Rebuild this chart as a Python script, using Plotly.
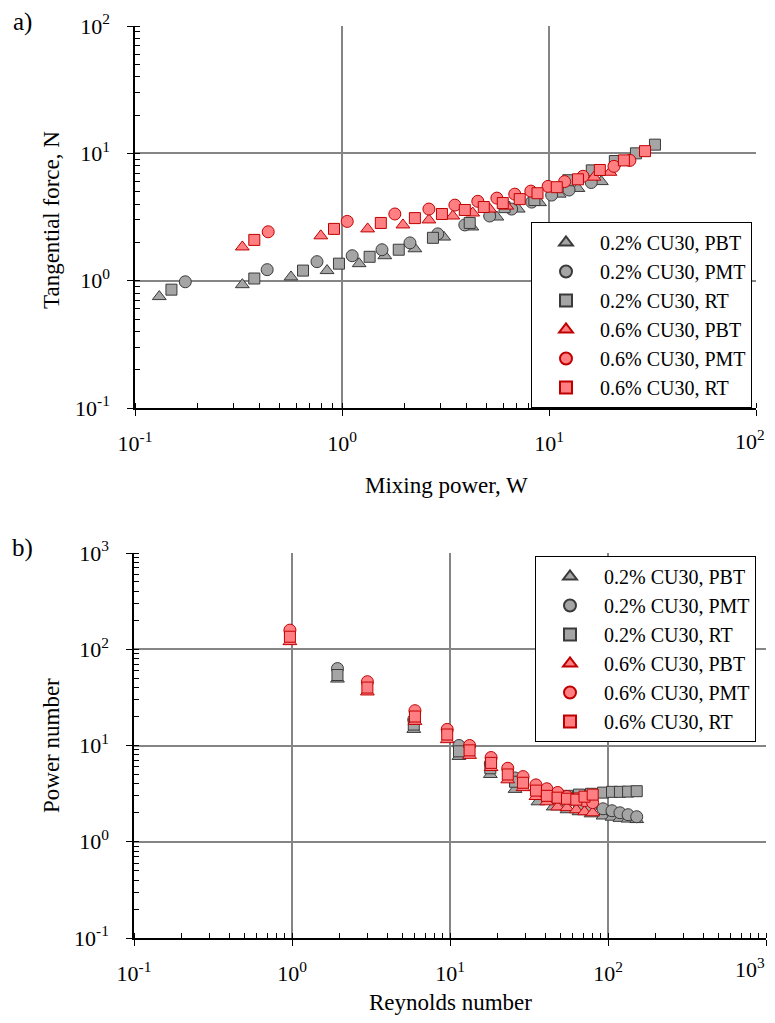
import plotly.graph_objects as go

# ---------------- Data: a) Tangential force vs mixing power ----------------
P_g_pbt = [0.131, 0.33, 0.567, 0.847, 1.21, 1.61, 2.25, 3.1, 4.24, 5.6, 7.1, 9.0, 11.2, 13.8, 17.9]
F_g_pbt = [0.75, 0.93, 1.07, 1.2, 1.36, 1.57, 1.78, 2.2, 2.64, 3.16, 3.65, 4.1, 4.78, 5.3, 6.0]
P_g_pmt = [0.175, 0.435, 0.757, 1.12, 1.56, 2.13, 2.9, 3.92, 5.17, 6.6, 8.25, 10.3, 12.5, 16.0]
F_g_pmt = [0.98, 1.22, 1.41, 1.57, 1.75, 1.98, 2.33, 2.74, 3.22, 3.65, 4.14, 4.7, 5.15, 5.9]
P_g_rt = [0.150, 0.377, 0.648, 0.967, 1.36, 1.88, 2.75, 4.14, 6.1, 8.5, 12.4, 16.1, 20.8, 26.3, 32.5]
F_g_rt = [0.85, 1.04, 1.2, 1.36, 1.54, 1.75, 2.17, 2.84, 3.78, 4.3, 6.15, 7.35, 8.7, 10.0, 11.7]

P_r_pbt = [0.33, 0.79, 1.33, 1.97, 2.63, 3.43, 4.28, 5.17, 6.25, 16.5, 19.7]
F_r_pbt = [1.84, 2.25, 2.55, 2.74, 3.0, 3.22, 3.4, 3.65, 3.85, 6.5, 7.1]
P_r_pmt = [0.44, 1.06, 1.8, 2.63, 3.51, 4.53, 5.6, 6.83, 8.17, 9.9, 11.9, 14.6, 20.6, 24.6]
F_r_pmt = [2.42, 2.92, 3.34, 3.65, 3.92, 4.2, 4.45, 4.78, 5.05, 5.5, 6.0, 6.6, 7.9, 8.8]
P_r_rt = [0.377, 0.915, 1.54, 2.25, 3.04, 3.92, 4.84, 5.98, 7.22, 8.8, 10.9, 13.8, 17.6, 23.0, 29.1]
F_r_rt = [2.09, 2.55, 2.84, 3.1, 3.34, 3.59, 3.79, 4.07, 4.37, 4.86, 5.42, 6.25, 7.4, 8.8, 10.4]

# ---------------- Data: b) Power number vs Reynolds number ----------------
Re_g = [1.94, 5.9, 11.4, 18.0, 25.8, 36, 45, 55, 65.5, 78, 93, 106, 119, 134, 152]
Np_g_pbt = [49, 14.7, 7.7, 5.0, 3.5, 2.6, 2.3, 2.15, 2.05, 1.95, 1.85, 1.8, 1.75, 1.72, 1.7]
Np_g_pmt = [63, 18.6, 10.0, 6.5, 4.6, 3.4, 2.9, 2.6, 2.45, 2.3, 2.2, 2.1, 2.0, 1.91, 1.82]
Np_g_rt = [54, 16.5, 8.7, 5.8, 4.2, 3.3, 3.0, 3.0, 3.09, 3.15, 3.24, 3.3, 3.3, 3.32, 3.35]

Re_r = [0.97, 3.0, 6.0, 9.6, 13.3, 18.2, 23.2, 29, 35, 41, 48, 55, 63, 71, 80]
Np_r_pbt = [120, 36, 17.8, 11.5, 7.9, 5.9, 4.4, 3.65, 2.95, 2.6, 2.3, 2.26, 2.15, 2.05, 2.0]
Np_r_pmt = [158, 46, 23, 14.7, 10.0, 7.5, 5.8, 4.75, 3.9, 3.55, 3.25, 2.95, 2.8, 2.67, 2.55]
Np_r_rt = [135, 40, 20, 13, 8.9, 6.6, 5.0, 4.1, 3.4, 3.0, 2.87, 2.8, 2.74, 2.94, 3.09]

names = ["0.2% CU30, PBT", "0.2% CU30, PMT", "0.2% CU30, RT",
         "0.6% CU30, PBT", "0.6% CU30, PMT", "0.6% CU30, RT"]
symbols = ["triangle-up", "circle", "square"] * 2
fills = ["#a5a5a5"] * 3 + ["#ff7f83"] * 3
lines = ["#3a3a3a"] * 3 + ["#c00000"] * 3
sizes = [12, 12, 11] * 2

FONT = "Liberation Serif"
W, H = 775, 1023
OFF = 8  # page body margin offset in the screenshot


def px(x):
    return (x - OFF) / W


def py(y):
    return 1 - (y - OFF) / H


top_sets = [(P_g_pbt, F_g_pbt), (P_g_pmt, F_g_pmt), (P_g_rt, F_g_rt),
            (P_r_pbt, F_r_pbt), (P_r_pmt, F_r_pmt), (P_r_rt, F_r_rt)]
bot_sets = [(Re_g, Np_g_pbt), (Re_g, Np_g_pmt), (Re_g, Np_g_rt),
            (Re_r, Np_r_pbt), (Re_r, Np_r_pmt), (Re_r, Np_r_rt)]

fig = go.Figure()
for i, (x, y) in enumerate(top_sets):
    fig.add_trace(go.Scatter(
        x=x, y=y, mode="markers", name=names[i], xaxis="x", yaxis="y",
        legend="legend",
        marker=dict(symbol=symbols[i], size=sizes[i], color=fills[i],
                    line=dict(color=lines[i], width=1))))
for i, (x, y) in enumerate(bot_sets):
    fig.add_trace(go.Scatter(
        x=x, y=y, mode="markers", name=names[i], xaxis="x2", yaxis="y2",
        legend="legend2",
        marker=dict(symbol=symbols[i], size=sizes[i], color=fills[i],
                    line=dict(color=lines[i], width=1))))


def sup(e):
    return "10<sup>%d</sup>" % e if e >= 0 else "10<sup>-%d</sup>" % (-e)


def axis_common(lo, hi, domain, anchor, hide_last=False):
    vals = [10 ** e for e in range(lo, hi + 1)]
    texts = [sup(e) for e in range(lo, hi + 1)]
    if hide_last:
        texts[-1] = ""
    return dict(
        type="log", range=[lo, hi], domain=domain, anchor=anchor,
        automargin=False,
        tickmode="array", tickvals=vals, ticktext=texts,
        ticks="outside", ticklen=6, tickwidth=1.2, tickcolor="black",
        showline=True, linecolor="black", linewidth=1.5,
        showgrid=True, gridcolor="#858585", gridwidth=1.5,
        zeroline=False,
        tickfont=dict(family=FONT, size=22, color="black"),
        minor=dict(dtick="D1", ticks="inside", ticklen=5, tickwidth=1,
                   tickcolor="black", showgrid=False),
    )


xa = axis_common(-1, 2, [px(135), px(756)], "y", hide_last=True)
ya = axis_common(-1, 2, [py(408), py(26)], "x")
xb = axis_common(-1, 3, [px(134), px(766)], "y2", hide_last=True)
yb = axis_common(-1, 3, [py(938), py(553)], "x2")
for a in (xa, xb):
    a["ticklabelstandoff"] = 9
for a in (ya, yb):
    a["ticklabelstandoff"] = 13

legend_style = dict(
    font=dict(family=FONT, size=20, color="black"),
    bgcolor="white", bordercolor="black", borderwidth=1,
    xanchor="right", yanchor="top", itemsizing="constant",
    itemwidth=58, tracegroupgap=0,
)


def ann(text, x, y, size=23, angle=0, xanchor="center"):
    return dict(text=text, x=px(x), y=py(y), xref="paper", yref="paper",
                xanchor=xanchor, yanchor="middle", showarrow=False,
                textangle=angle, font=dict(family=FONT, size=size, color="black"))


fig.update_layout(
    template="none",
    width=W, height=H,
    margin=dict(l=0, r=0, t=0, b=0, pad=0),
    paper_bgcolor="white", plot_bgcolor="white",
    font=dict(family=FONT, size=20, color="black"),
    xaxis=xa, yaxis=ya, xaxis2=xb, yaxis2=yb,
    legend=dict(x=px(752), y=py(222), **legend_style),
    legend2=dict(x=px(756), y=py(556), **legend_style),
    annotations=[
        ann("a)", 22, 22, 25),
        ann("b)", 22, 548, 25),
        ann("Tangential force, N", 51, 220, 23, -90),
        ann("Mixing power, W", 446, 485, 23),
        ann("Power number", 51, 746, 23, -90),
        ann("Reynolds number", 450, 1002, 23),
        ann("10<sup>2</sup>", 767, 440, 22, 0, "right"),
        ann("10<sup>3</sup>", 767, 968, 22, 0, "right"),
    ],
)

fig.write_html("out.html")
